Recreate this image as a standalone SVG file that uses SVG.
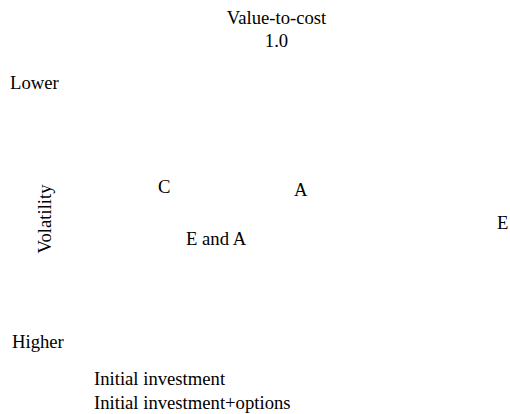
<svg xmlns="http://www.w3.org/2000/svg" width="510" height="414" viewBox="0 0 510 414">
<style>
text{font-family:"Liberation Serif","Times New Roman",serif;font-size:18.67px;fill:#000}
</style>
<rect width="510" height="414" fill="#fff"/>
<g id="title"><text x="276.5" y="24" text-anchor="middle">Value-to-cost</text><text x="276.5" y="47" text-anchor="middle">1.0</text></g>
<g id="lower"><text x="10" y="89">Lower</text></g>
<g id="volatility"><text transform="translate(51,219) rotate(-90)" text-anchor="middle">Volatility</text></g>
<g id="nodeC"><text x="158" y="193">C</text></g>
<g id="nodeA"><text x="294" y="196">A</text></g>
<g id="nodeEA"><text x="186" y="245">E and A</text></g>
<g id="nodeE"><text x="497" y="229">E</text></g>
<g id="higher"><text x="12" y="348">Higher</text></g>
<g id="legend"><text x="94" y="385">Initial investment</text><text x="94" y="409">Initial investment+options</text></g>
<g id="connectors"></g>
</svg>
